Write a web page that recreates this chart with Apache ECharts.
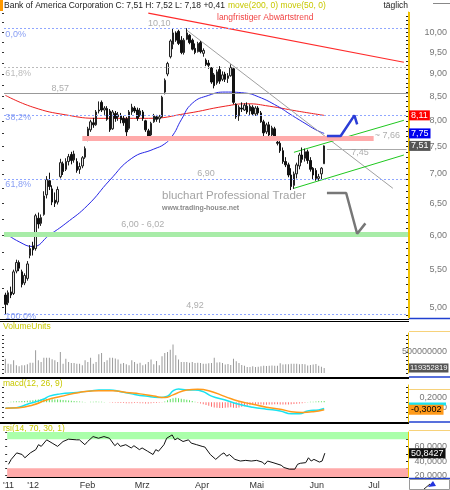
<!DOCTYPE html>
<html><head><meta charset="utf-8">
<script src="https://cdn.jsdelivr.net/npm/echarts@6/dist/echarts.min.js"></script>
<style>html,body{margin:0;padding:0;background:#fff}#c{width:450px;height:490px}</style>
</head><body><div id="c"></div>
<script>
const FONT = "'Liberation Sans',Arial,sans-serif";

// ---- data (trading days from 19 Dec 2011 to 6 Jun 2012) ----
const openP = [5.16,5.06,5.20,5.18,5.48,5.60,5.47,5.32,5.38,
 5.70,5.84,5.80,6.26,6.18,6.32,6.64,6.88,6.74,6.55,6.52,6.95,7.18,7.08,7.22,7.35,7.25,7.22,7.08,7.14,
 7.30,7.62,7.82,7.96,7.92,8.20,8.38,8.22,8.25,8.20,7.84,8.15,8.08,8.10,8.05,8.04,7.85,8.18,8.26,8.22,
 8.12,8.18,8.00,7.80,7.72,7.98,8.08,8.04,8.08,8.60,9.00,9.40,9.70,9.98,10.02,9.80,9.50,9.82,9.92,9.80,9.60,9.52,
 9.74,9.48,9.32,9.25,9.14,8.98,8.80,9.10,8.88,9.00,8.90,8.96,9.12,8.34,8.10,8.26,8.22,8.30,8.20,8.28,
 8.14,8.26,8.16,7.98,7.78,7.92,7.72,7.84,7.58,7.56,7.42,7.22,7.16,6.98,6.80,7.00,7.14,7.34,7.28,7.40,7.24,7.10,
 7.06,6.92,7.00,7.18];
const highP = [5.19,5.22,5.27,5.50,5.64,5.63,5.50,5.45,5.62,
 5.85,5.90,6.33,6.35,6.32,6.70,6.96,7.02,6.80,6.68,6.78,7.27,7.22,7.28,7.36,7.40,7.42,7.28,7.20,7.32,
 7.50,7.88,8.02,8.06,8.22,8.40,8.42,8.30,8.30,8.24,8.22,8.20,8.18,8.16,8.10,8.08,8.22,8.35,8.30,8.27,
 8.26,8.22,8.02,7.84,7.98,8.14,8.12,8.12,8.52,8.90,9.28,9.82,10.10,10.02,10.06,9.90,9.85,10.10,9.95,9.84,9.72,9.76,
 9.78,9.60,9.36,9.32,9.16,9.02,9.10,9.18,9.06,9.05,9.02,9.22,9.14,8.36,8.32,8.38,8.36,8.38,8.34,8.32,
 8.30,8.30,8.20,8.02,7.96,7.98,7.90,7.88,7.62,7.60,7.48,7.30,7.20,7.10,7.04,7.20,7.38,7.48,7.46,7.44,7.30,7.12,
 7.10,7.00,7.12,7.52];
const lowP = [4.92,5.03,5.12,5.16,5.45,5.48,5.26,5.29,5.35,
 5.66,5.70,5.77,6.10,6.14,6.30,6.58,6.72,6.47,6.44,6.48,6.92,6.98,7.05,7.15,7.17,7.20,7.02,7.00,7.10,
 7.27,7.60,7.78,7.86,7.90,8.15,8.18,8.12,8.00,7.78,7.82,7.98,8.00,7.95,7.90,7.70,7.82,8.12,8.16,8.00,
 8.08,8.00,7.78,7.64,7.70,7.96,7.98,7.96,8.06,8.55,8.95,9.36,9.58,9.76,9.68,9.46,9.45,9.80,9.70,9.55,9.46,9.50,
 9.48,9.40,9.18,9.12,8.78,8.68,8.76,8.78,8.84,8.82,8.80,8.94,8.34,8.04,8.00,8.18,8.20,8.14,8.12,8.10,
 8.10,8.12,7.96,7.70,7.74,7.68,7.68,7.66,7.52,7.38,7.18,7.12,6.94,6.72,6.74,6.92,7.08,7.20,7.22,7.18,7.04,6.90,
 6.88,6.88,6.90,7.18];
const closeP = [5.04,5.19,5.16,5.47,5.60,5.52,5.30,5.42,5.58,
 5.80,5.78,6.30,6.17,6.27,6.62,6.90,6.78,6.52,6.50,6.73,7.20,7.04,7.22,7.31,7.24,7.36,7.06,7.13,7.29,
 7.46,7.84,7.98,7.92,8.18,8.22,8.22,8.26,8.03,7.82,8.18,8.05,8.12,8.02,7.96,7.78,8.18,8.28,8.20,8.05,
 8.20,8.05,7.82,7.68,7.95,8.10,8.03,8.08,8.49,8.86,9.24,9.78,9.98,9.80,9.72,9.50,9.80,9.98,9.74,9.58,9.50,9.72,
 9.52,9.55,9.22,9.20,8.82,8.74,9.05,8.84,8.98,8.88,8.96,9.15,8.38,8.08,8.28,8.24,8.32,8.18,8.30,8.14,
 8.26,8.16,7.98,7.76,7.92,7.72,7.86,7.70,7.56,7.42,7.22,7.16,6.98,6.78,7.00,7.16,7.34,7.26,7.40,7.24,7.08,6.98,
 6.92,6.95,7.10,7.51];
// volume in millions of shares
const volumeM = [340,220,205,300,185,160,185,185,205,
 245,245,540,300,260,365,365,365,325,300,260,500,220,340,260,240,240,220,220,185,
 300,260,365,220,260,445,475,260,300,365,365,345,320,220,240,205,185,300,260,220,
 246,183,206,262,318,206,286,183,397,476,500,555,675,420,318,262,260,260,245,260,240,245,
 240,220,220,230,240,365,250,255,240,200,215,190,340,280,240,190,170,145,145,160,
 145,150,160,175,165,175,180,175,175,230,200,210,210,220,220,220,210,215,210,180,190,200,
 215,175,150,119.352819];
// moving averages (key points: [day index, value])
const ma200 = [[0,8.53],[10,8.28],[22,8.12],[34,8.05],[52,8.05],[66,8.15],[80,8.30],[88,8.35],[96,8.30],[106,8.20],[116,8.11]];
const ma50 = [[0,6.03],[5,5.90],[10,5.83],[16,6.00],[22,6.18],[30,6.47],[38,6.89],[46,7.28],[54,7.45],[58,7.55],[61,7.72],[64,8.02],[68,8.36],[74,8.53],[80,8.60],[87,8.58],[92,8.50],[99,8.30],[104,8.12],[109,7.95],[113,7.82],[116,7.75]];
// MACD
const macdLine = [[0,-0.24],[4,-0.22],[8,-0.08],[11,0.02],[14,0.13],[16,0.25],[20,0.34],[26,0.40],[31,0.46],[34,0.50],[38,0.50],[42,0.43],[46,0.34],[51,0.25],[56,0.19],[59,0.25],[61,0.46],[63,0.54],[66,0.50],[69,0.50],[72,0.43],[75,0.25],[80,0.09],[85,-0.08],[90,-0.20],[95,-0.28],[100,-0.35],[104,-0.47],[107,-0.47],[110,-0.35],[114,-0.31],[116,-0.25]];
const signalLine = [[0,-0.24],[5,-0.22],[10,-0.11],[15,0.09],[20,0.23],[27,0.40],[34,0.47],[39,0.47],[44,0.40],[49,0.34],[54,0.25],[58,0.19],[61,0.30],[66,0.50],[70,0.53],[74,0.47],[80,0.23],[85,0.04],[90,-0.08],[95,-0.20],[100,-0.28],[104,-0.38],[108,-0.41],[112,-0.38],[116,-0.3002]];
const macdHist = [0,0.01,0.02,0.03,0.04,0.04,0.05,0.05,0.06,
 0.07,0.08,0.10,0.11,0.12,0.13,0.13,0.12,0.12,0.11,0.11,0.10,0.09,0.08,0.07,0.06,0.05,0.04,0.03,0.02,
 0.01,0,0.02,0.02,0.03,0.02,0.02,0.01,0,-0.01,-0.02,-0.02,-0.03,-0.03,-0.03,-0.04,-0.04,-0.04,-0.03,-0.03,
 -0.04,-0.04,-0.05,-0.05,-0.04,-0.03,-0.03,-0.02,-0.01,0.03,0.08,0.13,0.16,0.18,0.16,0.14,0.12,0.10,0.08,0.05,0.02,-0.02,
 -0.05,-0.08,-0.11,-0.14,-0.18,-0.21,-0.22,-0.23,-0.23,-0.22,-0.21,-0.20,-0.22,-0.23,-0.21,-0.18,-0.16,-0.14,-0.12,-0.11,
 -0.10,-0.09,-0.09,-0.10,-0.10,-0.09,-0.09,-0.08,-0.08,-0.09,-0.09,-0.09,-0.09,-0.08,-0.07,-0.06,-0.05,-0.04,-0.02,0.01,0.02,0.02,
 0.03,0.04,0.04,0.05];
// RSI(14)
const rsiLine = [[0,35.5],[1,42.3],[3,51.2],[5,49.0],[6,44.5],[8,51.2],[10,55.7],[11,62.5],[12,60.2],[14,69.2],[16,64.7],[18,60.2],[20,66.9],[22,70.1],[25,69.2],[26,69.2],[28,62.5],[29,66.9],[31,73.7],[33,71.4],[35,73.7],[37,71.4],[39,61.1],[40,64.7],[41,60.2],[43,62.5],[45,58.0],[46,61.1],[48,55.7],[49,58.0],[51,53.5],[53,49.0],[54,55.7],[55,53.5],[57,62.5],[58,71.4],[60,76.0],[61,69.2],[62,71.4],[64,66.9],[66,69.2],[67,64.7],[69,62.5],[71,60.2],[72,59.3],[74,49.0],[76,42.3],[78,49.0],[79,51.2],[80,46.7],[81,49.0],[83,42.3],[85,40.0],[87,40.9],[89,40.0],[91,40.9],[93,38.6],[94,35.5],[95,40.0],[97,37.8],[100,34.2],[101,31.1],[103,28.8],[105,28.8],[106,35.5],[107,36.9],[109,37.8],[110,44.5],[111,40.0],[112,42.3],[114,38.6],[115,40.0],[116,50.8427]];

// ---- levels and drawn lines ----
const fibLevels = [10.10, 8.12, 6.90, 4.92];     // blue dotted
const grayDotted = [9.15];
const resistance857 = 8.57;
const supportBand = 6.01;      // 6,00 - 6,02
const pinkBand = {from:28, to:134, value:7.66};
const line745 = {from:117, to:146, value:7.45};
const redTrend = [[52,10.49],[145,9.27]];
const grayTrend = [[66,10.05],[141,6.75]];
const greenUpper = [[105,7.39],[145,8.01]];
const greenLower = [[105,6.75],[145,7.34]];
const blueArrow = [[117,7.70],[122,7.70],[127,8.11],[128,7.93]];
const grayArrow = [[117,6.67],[124,6.67],[128,6.02],[131,6.18]];
const annotations = [
  ['10,10',56,10.23,'#999','center'],['8,57',20,8.68,'#999','center'],['6,90',73,7.01,'#999','center'],
  ['6,00 - 6,02',50,6.16,'#999','center'],['4,92',69,5.03,'#999','center'],['7,45',129,7.38,'#999','center'],
  ['~ 7,66',139,7.71,'#999','center'],
  ['0,0%',0,9.95,'#6a86f0','left'],['61,8%',0,9.01,'#aaa','left'],['38,2%',0,8.06,'#6a86f0','left'],
  ['61,8%',0,6.81,'#6a86f0','left'],['100,0%',0,4.89,'#6a86f0','left'],
  ['langfristiger Abwärtstrend',77,10.38,'#ee1111','left']
];
const priceTicks = [5,5.5,6,6.5,7,7.5,8,8.5,9,9.5,10];
const tickIdx = [0,9,29,49,71,91,113,134];
const tickText = ["'11","'12","Feb","Mrz","Apr","Mai","Jun","Jul"];
const NSLOTS = 147;
const cats = Array.from({length:NSLOTS},(_,i)=>String(i));

const fmt = (v,d)=>v.toFixed(d).replace('.',',');
const last = closeP.length-1;

const chart = echarts.init(document.getElementById('c'), null, {renderer:'canvas'});
const G = [{top:12,h:306},{top:333,h:40},{top:385,h:37},{top:432,h:46}];
const grids = G.map(g=>({left:4,right:41,top:g.top,height:g.h}));
const xAxes = G.map((g,i)=>({type:'category',gridIndex:i,data:cats,boundaryGap:true,
  axisLine:{show:i===3,lineStyle:{color:'#000',width:1}},axisTick:{show:false},
  axisLabel:{show:i===3,interval:(idx)=>tickIdx.includes(idx),formatter:(v,idx)=>tickText[tickIdx.indexOf(idx)]||'',
    color:'#333',fontSize:9,fontFamily:FONT,margin:4},splitLine:{show:false}}));
const yellow = '#f2c200';
const axLab = {color:'#777',fontSize:9,fontFamily:FONT,align:'right',margin:39};
const tickStyle = {show:true,inside:true,length:2,lineStyle:{color:'#222'}};
const leftTicks = {show:true,inside:false,length:2,lineStyle:{color:'#333'}};
const yAxes = [
  {type:'log',gridIndex:0,position:'right',logBase:10,min:4.87,max:10.52,
   axisLine:{show:true,lineStyle:{color:yellow,width:1}},
   axisTick:Object.assign({customValues:Array.from({length:56},(_,i)=>Math.round((4.9+i*0.1)*10)/10)},tickStyle),
   axisLabel:Object.assign({customValues:priceTicks,formatter:v=>fmt(v,2)},axLab),
   splitLine:{show:false}},
  {type:'value',gridIndex:1,position:'right',min:0,max:950,
   axisLine:{show:true,lineStyle:{color:yellow}},axisTick:Object.assign({customValues:[0,100,200,300,400,500,600,700,800,900]},tickStyle),
   axisLabel:Object.assign({customValues:[500],formatter:v=>String(v*1e6)},axLab),
   splitLine:{show:false}},
  {type:'value',gridIndex:2,position:'right',min:-0.8,max:0.7,
   axisLine:{show:true,lineStyle:{color:yellow}},axisTick:Object.assign({customValues:[-0.6,-0.4,-0.2,0,0.2,0.4,0.6]},tickStyle),
   axisLabel:Object.assign({customValues:[0.2,-0.2],formatter:v=>fmt(v,4)},axLab),
   splitLine:{show:false}},
  {type:'value',gridIndex:3,position:'right',min:18,max:80,
   axisLine:{show:true,lineStyle:{color:yellow}},axisTick:Object.assign({customValues:[20,30,40,50,60,70,80]},tickStyle),
   axisLabel:Object.assign({customValues:[20,40,60],formatter:v=>fmt(v,4)},axLab),
   splitLine:{show:false}},
  // left-edge tick marks
  {type:'log',gridIndex:0,position:'left',logBase:10,min:4.87,max:10.52,axisLine:{show:false},axisLabel:{show:false},splitLine:{show:false},
   axisTick:Object.assign({customValues:[5,5.25,5.5,5.75,6,6.25,6.5,6.75,7,7.25,7.5,7.75,8,8.25,8.5,8.75,9,9.25,9.5,9.75,10,10.25,10.5]},leftTicks)},
  {type:'value',gridIndex:1,position:'left',min:0,max:950,axisLine:{show:false},axisLabel:{show:false},splitLine:{show:false},
   axisTick:Object.assign({customValues:[0,100,200,300,400,500,600,700,800,900]},leftTicks)},
  {type:'value',gridIndex:2,position:'left',min:-0.8,max:0.7,axisLine:{show:false},axisLabel:{show:false},splitLine:{show:false},
   axisTick:Object.assign({customValues:[-0.6,-0.4,-0.2,0,0.2,0.4,0.6]},leftTicks)},
  {type:'value',gridIndex:3,position:'left',min:18,max:80,axisLine:{show:false},axisLabel:{show:false},splitLine:{show:false},
   axisTick:Object.assign({customValues:[20,30,40,50,60,70,80]},leftTicks)}
];

function valueBox(val, text, bg, fg, extra){
  return {yAxis:val,lineStyle:{color:'rgba(0,0,0,0)',width:1},label:Object.assign({show:true,position:'end',distance:1,formatter:text,
    backgroundColor:bg,color:fg,fontSize:9,fontFamily:FONT,padding:[1,2,0,2],align:'left',verticalAlign:'middle'},extra||{})};
}
const simpleLine = (data,color,width,z,smooth)=>({type:'line',xAxisIndex:0,yAxisIndex:0,data,symbol:'none',smooth:!!smooth,
  lineStyle:{color,width},z:z||4,silent:true,animation:false});

const series = [
  // horizontal levels (behind candles)
  {type:'line',xAxisIndex:0,yAxisIndex:0,data:[],z:1,silent:true,
   markLine:{symbol:'none',silent:true,animation:false,label:{show:false},data:[
     ...fibLevels.map(v=>({yAxis:v,lineStyle:{color:'#8fa6ff',type:[2,2],width:1}})),
     ...grayDotted.map(v=>({yAxis:v,lineStyle:{color:'#bbb',type:[2,2],width:1}})),
     {yAxis:resistance857,lineStyle:{color:'#999',type:'solid',width:1}},
     {yAxis:supportBand,lineStyle:{color:'#a8eca8',type:'solid',width:5}},
     [{coord:[pinkBand.from,pinkBand.value],lineStyle:{color:'#ffaaaa',type:'solid',width:5}},{coord:[pinkBand.to,pinkBand.value]}],
     [{coord:[line745.from,line745.value],lineStyle:{color:'#aaa',type:'solid',width:1}},{coord:[line745.to,line745.value]}]
   ]}},
  simpleLine(ma200,'#ee2020',1,2,0.5),
  simpleLine(ma50,'#2626e6',1,2,0.5),
  simpleLine(redTrend,'#ff2a2a',1.2,2),
  simpleLine(grayTrend,'#a0a0a0',1,2),
  simpleLine(greenUpper,'#1fc81f',1,2),
  simpleLine(greenLower,'#1fc81f',1,2),
  simpleLine(blueArrow,'#2b3dd6',2.5,5),
  simpleLine(grayArrow,'#777',2.5,5),
  {type:'candlestick',xAxisIndex:0,yAxisIndex:0,z:3,barWidth:2,
   data:openP.map((o,i)=>[o,closeP[i],lowP[i],highP[i]]),
   itemStyle:{color:'#e4e4e4',color0:'#111',borderColor:'#222',borderColor0:'#111',borderWidth:1},
   markLine:{symbol:'none',silent:true,animation:false,data:[
     valueBox(ma200[ma200.length-1][1],fmt(ma200[ma200.length-1][1],2),'#ff0000','#fff'),
     valueBox(ma50[ma50.length-1][1],fmt(ma50[ma50.length-1][1],2),'#0000ee','#fff'),
     valueBox(closeP[last],fmt(closeP[last],2),'#555','#fff')
   ]}},
  {type:'scatter',xAxisIndex:0,yAxisIndex:0,symbolSize:0,z:6,silent:true,
   data:annotations.map(a=>({value:[a[1],a[2]],label:{show:true,position:'inside',formatter:a[0],color:a[3],align:a[4],
     fontSize:a[0].length>12?8.5:9,fontFamily:FONT}}))},
  // volume
  {type:'bar',xAxisIndex:1,yAxisIndex:1,data:volumeM,barWidth:1,itemStyle:{color:'#9a9a9a'},silent:true,
   markLine:{symbol:'none',silent:true,animation:false,data:[valueBox(volumeM[last],String(Math.round(volumeM[last]*1e6)),'#555','#fff',{fontSize:7.6,padding:[1,1,0,1]})]}},
  // macd
  {type:'bar',xAxisIndex:2,yAxisIndex:2,barWidth:1,silent:true,
   data:macdHist.map(v=>({value:v,itemStyle:{color:v>=0?'#5ede5e':'#ff6f6f'}}))},
  {type:'line',xAxisIndex:2,yAxisIndex:2,data:macdLine,symbol:'none',smooth:true,lineStyle:{color:'#19e3f0',width:1.5},silent:true,
   markLine:{symbol:'none',silent:true,animation:false,data:[valueBox(macdLine[macdLine.length-1][1]+0.18,'','#19e3f0','#19e3f0',{width:37,height:3,lineHeight:3,padding:0})]}},
  {type:'line',xAxisIndex:2,yAxisIndex:2,data:signalLine,symbol:'none',smooth:true,lineStyle:{color:'#ff9a1a',width:1.5},silent:true,
   markLine:{symbol:'none',silent:true,animation:false,data:[valueBox(signalLine[signalLine.length-1][1],fmt(signalLine[signalLine.length-1][1],4),'#ff9a1a','#000')]}},
  // rsi
  {type:'line',xAxisIndex:3,yAxisIndex:3,data:rsiLine,symbol:'none',lineStyle:{color:'#111',width:1},silent:true,
   markArea:{silent:true,itemStyle:{color:'#aaffaa'},data:[[{yAxis:70},{yAxis:80}]]},
   markLine:{symbol:'none',silent:true,animation:false,data:[valueBox(rsiLine[rsiLine.length-1][1],fmt(rsiLine[rsiLine.length-1][1],4),'#111','#fff')]}},
  {type:'line',xAxisIndex:3,yAxisIndex:3,data:[],silent:true,
   markArea:{silent:true,itemStyle:{color:'#ffaaaa'},data:[[{yAxis:18},{yAxis:30}]]}}
];

const headerText = 'Bank of America Corporation C: '+fmt(closeP[last],2)+' H: '+fmt(highP[last],2)+' L: '+fmt(lowP[last],2)+' +'+fmt(closeP[last]-closeP[last-1],2);
const graphic = [
  {type:'rect',shape:{x:0,y:0,width:3,height:11},style:{fill:'#ff9900'}},
  {type:'text',x:4,y:1.5,style:{text:headerText,fill:'#222',font:'8.5px '+FONT}},
  {type:'text',x:228,y:1.5,style:{text:'move(200, 0) move(50, 0)',fill:'#c8c800',font:'8.5px '+FONT}},
  {type:'text',x:408,y:1.5,style:{text:'täglich',fill:'#222',font:'8.5px '+FONT,align:'right'}},
  {type:'line',shape:{x1:433,y1:3.5,x2:450,y2:3.5},style:{stroke:'#888',lineWidth:1}},
  {type:'text',x:162,y:190,style:{text:'bluchart Professional Trader',fill:'#a4a4a4',font:'11.5px '+FONT}},
  {type:'text',x:162,y:205,style:{text:'www.trading-house.net',fill:'#8a8a8a',font:'bold 7px '+FONT}},
  // panel separators
  {type:'line',shape:{x1:0,y1:319.5,x2:409,y2:319.5},style:{stroke:'#000',lineWidth:1}},
  {type:'line',shape:{x1:0,y1:321.5,x2:409,y2:321.5},style:{stroke:'#000',lineWidth:1}},
  {type:'line',shape:{x1:409,y1:318.5,x2:450,y2:318.5},style:{stroke:'#2040d0',lineWidth:1.5}},
  {type:'line',shape:{x1:0,y1:378,x2:409,y2:378},style:{stroke:'#000',lineWidth:2}},
  {type:'line',shape:{x1:409,y1:377,x2:450,y2:377},style:{stroke:'#2040d0',lineWidth:1.5}},
  {type:'line',shape:{x1:0,y1:423,x2:409,y2:423},style:{stroke:'#000',lineWidth:2}},
  {type:'line',shape:{x1:409,y1:422,x2:450,y2:422},style:{stroke:'#2040d0',lineWidth:1.5}},
  {type:'line',shape:{x1:409,y1:478.5,x2:450,y2:478.5},style:{stroke:'#2040d0',lineWidth:1.5}},
  // right box tops
  {type:'line',shape:{x1:409,y1:331.5,x2:450,y2:331.5},style:{stroke:'#f7d27a',lineWidth:1}},
  {type:'line',shape:{x1:409,y1:389.5,x2:450,y2:389.5},style:{stroke:'#f7d27a',lineWidth:1}},
  {type:'line',shape:{x1:409,y1:430.5,x2:450,y2:430.5},style:{stroke:'#f7d27a',lineWidth:1}},
  {type:'line',shape:{x1:409.5,y1:12,x2:409.5,y2:318},style:{stroke:yellow,lineWidth:1}},
  // panel titles
  {type:'text',x:3,y:322,style:{text:'VolumeUnits',fill:'#c8c800',font:'8.5px '+FONT}},
  {type:'text',x:3,y:379,style:{text:'macd(12, 26, 9)',fill:'#c8c800',font:'8.5px '+FONT}},
  {type:'text',x:3,y:424,style:{text:'rsi(14, 70, 30, 1)',fill:'#c8c800',font:'8.5px '+FONT}},
  // bottom-right icon
  {type:'rect',shape:{x:409.5,y:479.5,width:40,height:10},style:{fill:'#fff',stroke:'#999',lineWidth:1}},
  {type:'polygon',shape:{points:[[428,487],[433,481],[436,486]]},style:{fill:'#2233dd'}},
  {type:'line',shape:{x1:424,y1:489,x2:430,y2:484},style:{stroke:'#222',lineWidth:1}}
];

chart.setOption({animation:false,backgroundColor:'#fff',grid:grids,xAxis:xAxes,yAxis:yAxes,series,graphic});
</script></body></html>
